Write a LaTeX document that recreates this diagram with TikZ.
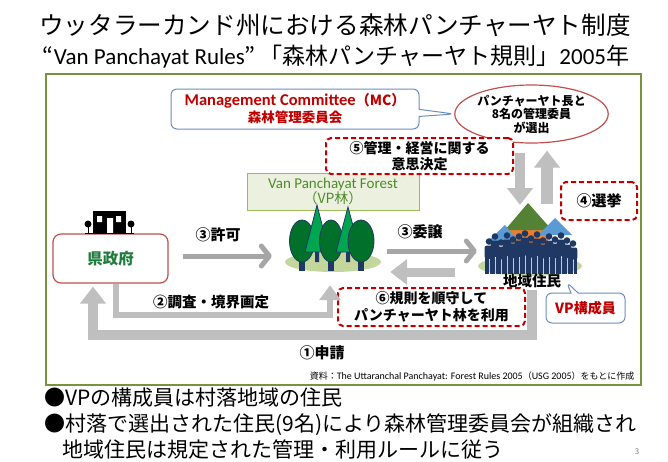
\documentclass[tikz,border=0pt]{standalone}
\usepackage{fontspec}
\setmainfont{Noto Sans CJK JP}
\newfontfamily\latin{Carlito}
\usetikzlibrary{arrows.meta,shapes.geometric,shapes.callouts,positioning}

\definecolor{framegreen}{HTML}{77933C}
\definecolor{boxred}{HTML}{C00000}
\definecolor{edgered}{HTML}{C0504D}
\definecolor{edgeblue}{HTML}{6C8EBF}
\definecolor{linegray}{HTML}{A6A6A6}
\definecolor{blockgray}{HTML}{BFBFBF}
\definecolor{forestfill}{HTML}{EBF1DE}
\definecolor{forestedge}{HTML}{9BBB59}
\definecolor{foresttext}{HTML}{4F8A2B}
\definecolor{govgreen}{HTML}{1E7B3C}
\definecolor{groundgreen}{HTML}{C3D69B}
\definecolor{crowngreen}{HTML}{00702A}
\definecolor{pinegreen}{HTML}{00A550}
\definecolor{navy}{HTML}{1F3864}
\definecolor{roofgreen}{HTML}{548235}
\definecolor{rooforange}{HTML}{ED7D31}
\definecolor{roofblue}{HTML}{5B9BD5}

\tikzset{
    dashbox/.style={draw=boxred, line width=2pt, dash pattern=on 5pt off 3pt,
        rounded corners=5pt, fill=white, align=center, inner sep=0pt,
        font=\fontsize{14}{16.5}\selectfont\bfseries}, % red dashed step boxes
    callbox/.style={rectangle callout, draw=edgeblue, line width=1pt,
        rounded corners=6pt, fill=white, align=center, inner sep=0pt,
        text=boxred, font=\bfseries}, % blue speech boxes
    linearrow/.style={draw=linegray, line width=5pt,
        -{Straight Barb[round,length=8pt,width=20pt]}}, % open headed arrows
    blockarrow/.style={draw=blockgray, line width=#1, line join=miter,
        -{Triangle[length=17pt,width=25pt]}}, % filled headed arrows
    steplabel/.style={font=\fontsize{15}{17}\selectfont\bfseries},
    person/.style={fill=navy},
    note/.style={anchor=west, font=\fontsize{21}{23}\selectfont},
}

\begin{document}
\begin{tikzpicture}[x=1pt, y=-1pt]
\useasboundingbox (0,0) rectangle (668,461);

% title
\node (title) at (335,25) {\fontsize{24.6}{27}\selectfont ウッタラーカンド州における森林パンチャーヤト制度};
\node (subtitle) at (336,57) {\fontsize{23}{25}\selectfont “{\latin Van Panchayat Rules}”\,「森林パンチャーヤト規則」{\latin 2005}年};

% frame
\draw[framegreen, line width=1.5pt] (46,74) rectangle (641,385);

% boxes
\node[draw=edgered, line width=1.2pt, rounded corners=8pt, fill=white,
      minimum width=115pt, minimum height=49pt, text=govgreen,
      font=\fontsize{15.5}{17}\selectfont\bfseries] (gov) at (110.5,258.5) {県政府};
\node[fill=forestfill, draw=forestedge, line width=1pt, minimum width=172pt,
      minimum height=37pt, inner sep=0pt, align=center, text=foresttext,
      font=\fontsize{14}{15}\selectfont] (vpf) at (333,191.5)
      {{\latin\fontsize{15}{15}\selectfont Van Panchayat Forest}\\（VP林）};
\node[draw=edgered, line width=1.2pt, ellipse, minimum width=139pt,
      minimum height=58pt, inner sep=0pt, align=center,
      font=\fontsize{12}{13.5}\selectfont\bfseries] (elect) at (531.5,114)
      {パンチャーヤト長と\\8名の管理委員\\が選出};
\node[callbox, minimum width=248pt, minimum height=40pt,
      callout absolute pointer={(elect.west)}] (mc) at (295,109)
      {{\latin\fontsize{16.5}{17}\selectfont Management Committee}{\fontsize{14}{17}\selectfont（MC）}\\[1.5pt]
       {\fontsize{13.5}{15}\selectfont 森林管理委員会}};
\node[dashbox, minimum width=187pt, minimum height=36pt] (d5) at (419.5,156)
      {⑤管理・経営に関する\\意思決定};
\node[dashbox, minimum width=76pt, minimum height=38pt,
      font=\fontsize{15}{17}\selectfont\bfseries] (d4) at (599,201) {④選挙};
\node[dashbox, minimum width=187pt, minimum height=38pt] (d6) at (431.5,307)
      {⑥規則を順守して\\パンチャーヤト林を利用};

% prefectural office building
\fill (93,211) rectangle (126,233);
\fill[white] (97,216) rectangle (102,222) (116,216) rectangle (121,222)
             (107,218) rectangle (113,233);
\fill (88,224) circle (3.5) (131,224) circle (3.5);
\draw[line width=1pt] (88,224) -- (88,233) (131,224) -- (131,233) (85,233) -- (134,233);

% forest
\node[ellipse, fill=groundgreen, minimum width=96pt, minimum height=20pt] (forest) at (333,262) {};
\foreach \tx in {302,331,361}
    \fill[navy] (\tx-3,255) rectangle (\tx+3,271);
\fill[navy] (315,250) rectangle (319,262) (346,250) rectangle (350,262);
\filldraw[fill=crowngreen, draw=navy, line width=0.8pt] (302,241) ellipse (12.5 and 21);
\filldraw[fill=pinegreen, draw=navy, line width=0.8pt] (317,205) -- (329,252) -- (305,252) -- cycle;
\filldraw[fill=crowngreen, draw=navy, line width=0.8pt] (331,241) ellipse (11.5 and 21);
\filldraw[fill=pinegreen, draw=navy, line width=0.8pt] (348,207) -- (360,252) -- (336,252) -- cycle;
\filldraw[fill=crowngreen, draw=navy, line width=0.8pt] (361,241) ellipse (13 and 21);

% village
\node[ellipse, fill=groundgreen, minimum width=104pt, minimum height=20pt] (village) at (530,266) {};
\coordinate (roof) at (528,203);
\fill[rooforange] (508,228) rectangle (548,252);
\fill[roofgreen] (roof) -- (552,230) -- (505,230) -- cycle;
\fill[roofblue] (505,225) -- (519,242) -- (487,242) -- cycle;
\fill[roofblue] (555,218) -- (572,235) -- (538,235) -- cycle;
\foreach \px/\ph in {489/36,495/41,501/35,507/42,513/38,519/41,525/44,531/39,
                     537/43,543/37,549/41,555/38,561/42,567/37,573/34}{
    \begin{scope}[shift={(\px,274)}]
        \fill[person] (0,{-\ph+3.5}) circle (3.3);
        \fill[person, rounded corners=2pt] (-4.3,{-\ph+7.5}) rectangle (4.3,{-0.42*\ph});
        \fill[person] (-3.8,{-0.46*\ph}) rectangle (-0.5,0);
        \fill[person] (0.5,{-0.46*\ph}) rectangle (3.8,0);
    \end{scope}
}
\node[font=\fontsize{14.5}{16}\selectfont\bfseries] (jumin) at (532,281) {地域住民};
\node[callbox, minimum width=79pt, minimum height=30pt,
      font=\fontsize{14}{16}\selectfont\bfseries,
      callout absolute pointer={([shift={(2,1)}]jumin.east)}] (vpm) at (585.5,308) {VP構成員};

% arrows
\coordinate (survey) at (330,315);
\coordinate (apply) at (322,335);
\draw[linearrow] ([shift={(14,-2.5)}]gov.east) -- ([shift={(-13,-6)}]forest.west);
\draw[linearrow] ([shift={(6,-11)}]forest.east) -- ([shift={(-1,-15)}]village.west);
\draw[blockarrow=9pt] ([shift={(-23,6)}]village.west) -- ([shift={(9,10)}]forest.east);
\draw[blockarrow=6pt, -{Triangle[length=15pt,width=21pt]}]
    ([shift={(5.5,0)}]gov.south) |- (survey) -- ([shift={(-3,13)}]forest.south);
\draw[blockarrow=10pt] ([shift={(0,9)}]jumin.center) -- (jumin.center |- apply)
    -| ([shift={(-17.5,3)}]gov.south);
\draw[blockarrow=10pt] ([shift={(-11.5,9)}]elect.south) -- ([shift={(-8,2)}]roof);
\draw[blockarrow=12pt] ([shift={(15.5,60)}]elect.south) -- ([shift={(15.5,7)}]elect.south);

% arrow labels
\node[steplabel] (l3a) at (218,235) {③許可};
\node[steplabel] (l3b) at (420,232) {③委譲};
\node[steplabel, font=\fontsize{14.5}{16}\selectfont\bfseries] (l2) at (211,302) {②調査・境界画定};
\node[steplabel] (l1) at (322,353) {①申請};

% source
\node[anchor=east, font=\fontsize{9}{10}\selectfont] (src) at (638,376)
    {資料：{\latin\fontsize{10}{10}\selectfont The Uttaranchal Panchayat: Forest Rules 2005}（{\latin\fontsize{10}{10}\selectfont USG 2005}）をもとに作成};

% notes
\node[note] (n1) at (41,398) {●VPの構成員は村落地域の住民};
\node[note] (n2) at (41,425) {●村落で選出された住民(9名)により森林管理委員会が組織され};
\node[note] (n3) at (59,450) {地域住民は規定された管理・利用ルールに従う};
\node[text=gray, font=\fontsize{8}{9}\selectfont] (page) at (637,452) {3};
\end{tikzpicture}
\end{document}
